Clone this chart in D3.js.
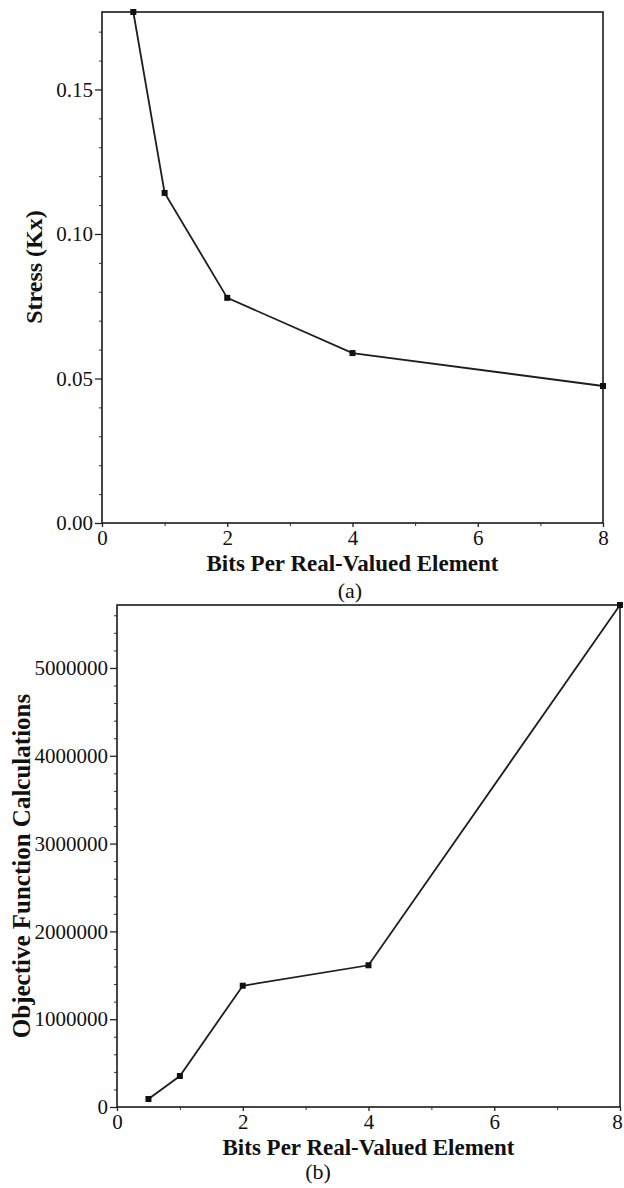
<!DOCTYPE html>
<html>
<head>
<meta charset="utf-8">
<script src="https://cdn.jsdelivr.net/npm/d3@7"></script>
<style>
  html, body { margin: 0; padding: 0; background: #fff; }
  svg { display: block; }
  text { font-family: "Liberation Serif", "Times New Roman", serif; fill: #111; }
</style>
</head>
<body>
<svg id="chart" width="624" height="1188"></svg>
<script>
// ---- Data ----
const bits = [0.5, 1, 2, 4, 8];
const stress = [0.1768, 0.1142, 0.0779, 0.0588, 0.0474];
const evaluations = [91000, 353000, 1381000, 1614000, 5717000];

const xTicks = [0, 2, 4, 6, 8];
const xMinorTicks = [1, 3, 5, 7];
const stressTicks = [0.00, 0.05, 0.10, 0.15];
const stressMinorTicks = [0.01, 0.02, 0.03, 0.04, 0.06, 0.07, 0.08, 0.09, 0.11, 0.12, 0.13, 0.14, 0.16, 0.17];
const evalTicks = [0, 1000000, 2000000, 3000000, 4000000, 5000000];
const evalMinorTicks = d3.range(200000, 5700000, 200000).filter(v => v % 1000000 !== 0);

const xLabel = "Bits Per Real-Valued Element";
const panels = [
  { y: stress, yTicks: stressTicks, yMinor: stressMinorTicks, fmt: d3.format(".2f"),
    yLabel: "Stress (Kx)", caption: "(a)", yLabelSize: 24, yLabelAnchor: "middle",
    box: { left: 102, right: 603, top: 12, bottom: 523 }, yLabelX: 42, yLabelY: 267, captionX: 350, captionDy: 75 },
  { y: evaluations, yTicks: evalTicks, yMinor: evalMinorTicks, fmt: d3.format("d"),
    yLabel: "Objective Function Calculations", caption: "(b)", yLabelSize: 25, yLabelAnchor: "middle",
    box: { left: 117, right: 620, top: 605, bottom: 1107 }, yLabelX: 30, yLabelY: 866, captionX: 318, captionDy: 72 }
];

const svg = d3.select("#chart");

panels.forEach(p => {
  const b = p.box;
  const x = d3.scaleLinear().domain([0, 8]).range([b.left, b.right]);
  const y = d3.scaleLinear().domain([0, d3.max(p.y)]).range([b.bottom, b.top]);
  const g = svg.append("g");

  // Y axis major
  const yAxis = g.append("g").attr("transform", `translate(${b.left},0)`)
    .call(d3.axisLeft(y).tickValues(p.yTicks).tickFormat(p.fmt).tickSize(7).tickPadding(2));
  yAxis.select(".domain").remove();
  yAxis.selectAll("line").attr("stroke", "#222").attr("stroke-width", 1.3);
  yAxis.selectAll("text").attr("font-size", 21).attr("fill", "#111")
    .style("font-family", '"Liberation Serif", serif');
  // Y axis minor
  const yMin = g.append("g").attr("transform", `translate(${b.left},0)`)
    .call(d3.axisLeft(y).tickValues(p.yMinor).tickFormat("").tickSize(3));
  yMin.select(".domain").remove();
  yMin.selectAll("line").attr("stroke", "#333").attr("stroke-width", 1);

  // X axis major
  const xAxis = g.append("g").attr("transform", `translate(0,${b.bottom})`)
    .call(d3.axisBottom(x).tickValues(xTicks).tickFormat(d3.format("d")).tickSize(4).tickPadding(3));
  xAxis.select(".domain").remove();
  xAxis.selectAll("line").attr("stroke", "#222").attr("stroke-width", 1.3);
  xAxis.selectAll("text").attr("font-size", 21).attr("fill", "#111")
    .style("font-family", '"Liberation Serif", serif')
    .attr("dx", d => (x(d) + 6 > 623 ? -(x(d) + 6 - 623) : 0));
  const xMin = g.append("g").attr("transform", `translate(0,${b.bottom})`)
    .call(d3.axisBottom(x).tickValues(xMinorTicks).tickFormat("").tickSize(3));
  xMin.select(".domain").remove();
  xMin.selectAll("line").attr("stroke", "#333").attr("stroke-width", 1);

  // Frame
  g.append("rect")
    .attr("x", b.left).attr("y", b.top)
    .attr("width", b.right - b.left).attr("height", b.bottom - b.top)
    .attr("fill", "none").attr("stroke", "#1a1a1a").attr("stroke-width", 1.6);

  // Line
  const pts = bits.map((v, i) => [v, p.y[i]]);
  g.append("path").datum(pts)
    .attr("fill", "none").attr("stroke", "#1e1e1e").attr("stroke-width", 1.8)
    .attr("d", d3.line().x(d => x(d[0])).y(d => y(d[1])));
  g.selectAll("rect.pt").data(pts).enter().append("rect").attr("class", "pt")
    .attr("x", d => x(d[0]) - 3).attr("y", d => y(d[1]) - 3)
    .attr("width", 6).attr("height", 6).attr("fill", "#111");

  // X label
  g.append("text")
    .attr("x", (b.left + b.right) / 2).attr("y", b.bottom + 48)
    .attr("text-anchor", "middle").attr("font-size", 23).attr("font-weight", "bold")
    .text(xLabel);
  // Caption
  g.append("text")
    .attr("x", p.captionX).attr("y", b.bottom + p.captionDy)
    .attr("text-anchor", "middle").attr("font-size", 22)
    .text(p.caption);
  // Y label
  g.append("text")
    .attr("transform", `translate(${p.yLabelX},${p.yLabelY}) rotate(-90)`)
    .attr("text-anchor", p.yLabelAnchor).attr("font-size", p.yLabelSize).attr("font-weight", "bold")
    .text(p.yLabel);
});
</script>
</body>
</html>
